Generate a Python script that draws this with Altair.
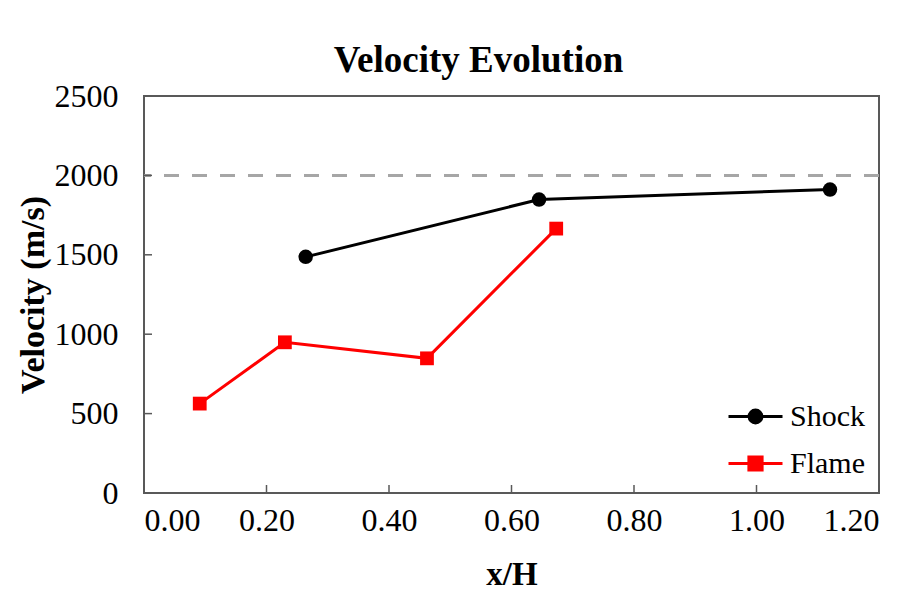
import altair as alt
import pandas as pd

# ---- data ----
shock_x = [0.264, 0.645, 1.120]
shock_v = [1487, 1848, 1911]
flame_x = [0.091, 0.230, 0.462, 0.673]
flame_v = [563, 949, 848, 1665]
series_names = ["Shock", "Flame"]
series_colors = ["#000000", "#FF0000"]
reference_velocity = [2000]
x_ticks = [0.0, 0.2, 0.4, 0.6, 0.8, 1.0, 1.2]
y_ticks = [0, 500, 1000, 1500, 2000, 2500]

FONT = "Liberation Serif"
AXIS_COLOR = "#595959"

shock_df = pd.DataFrame({"x": shock_x, "v": shock_v, "series": "Shock"})
flame_df = pd.DataFrame({"x": flame_x, "v": flame_v, "series": "Flame"})
all_df = pd.concat([shock_df, flame_df], ignore_index=True)
ref_df = pd.DataFrame({"v": reference_velocity})
xt_df = pd.DataFrame({"x": x_ticks})
yt_df = pd.DataFrame({"v": y_ticks})

W, H = 735, 397

xscale = alt.Scale(domain=[0, 1.2], nice=False, zero=False)
yscale = alt.Scale(domain=[0, 2500], nice=False)

x_axis = alt.Axis(
    values=x_ticks, format=".2f", grid=False, domain=False, ticks=False,
    labelFont=FONT, labelFontSize=32, labelColor="#000000", labelPadding=12,
    title="x/H", titleFont=FONT, titleFontSize=33, titleFontWeight="bold",
    titleColor="#000000", titlePadding=22,
)
y_axis = alt.Axis(
    values=y_ticks, format="d", grid=False, domain=False, ticks=False,
    labelFont=FONT, labelFontSize=32, labelColor="#000000", labelPadding=26,
    title="Velocity (m/s)", titleFont=FONT, titleFontSize=34, titleFontWeight="bold",
    titleColor="#000000", titlePadding=4,
)

X = alt.X("x:Q", scale=xscale, axis=x_axis)
Y = alt.Y("v:Q", scale=yscale, axis=y_axis)

# legend glyphs: a line segment with the series marker on it
legend_paths = [
    "M-1.35,0L1.35,0M-0.32,0A0.32,0.32,0,1,0,0.32,0A0.32,0.32,0,1,0,-0.32,0Z",
    "M-1.35,0L1.35,0M-0.33,-0.33L0.33,-0.33L0.33,0.33L-0.33,0.33Z",
]

legend = alt.Legend(
    title=None,
    orient="bottom-right",
    offset=14,
    symbolSize=1600,
    symbolStrokeWidth=3,
    labelFont=FONT,
    labelFontSize=30,
    labelColor="#000000",
    labelOffset=13,
    rowPadding=10,
    padding=0,
)

ref_line = alt.Chart(ref_df).mark_rule(
    color="#A6A6A6", strokeWidth=3, strokeDash=[15, 13]
).encode(y=Y)

shock_line = alt.Chart(shock_df).mark_line(strokeWidth=3, color=series_colors[0]).encode(x=X, y=Y)
flame_line = alt.Chart(flame_df).mark_line(strokeWidth=3, color=series_colors[1]).encode(x=X, y=Y)

shock_pts = alt.Chart(shock_df).mark_point(
    filled=True, opacity=1, size=210, shape="circle", color=series_colors[0]
).encode(x=X, y=Y)
flame_pts = alt.Chart(flame_df).mark_point(
    filled=True, opacity=1, size=190, shape="square", color=series_colors[1]
).encode(x=X, y=Y)

# legend-only layer (rows filtered out; the legend uses the explicit domains)
legend_layer = alt.Chart(all_df).transform_filter(alt.datum.v < 0).mark_point(
    strokeWidth=3, opacity=1
).encode(
    x=X,
    y=Y,
    fill=alt.Fill("series:N", scale=alt.Scale(domain=series_names, range=series_colors), legend=legend),
    stroke=alt.Stroke("series:N", scale=alt.Scale(domain=series_names, range=series_colors), legend=legend),
    shape=alt.Shape("series:N", scale=alt.Scale(domain=series_names, range=legend_paths), legend=legend),
)

x_tick_marks = alt.Chart(xt_df).mark_rule(color=AXIS_COLOR, strokeWidth=1.5).encode(
    x=X, y=alt.value(H), y2=alt.value(H - 8),
)
y_tick_marks = alt.Chart(yt_df).mark_rule(color=AXIS_COLOR, strokeWidth=1.5).encode(
    y=Y, x=alt.value(0), x2=alt.value(8),
)

chart = (
    alt.layer(ref_line, x_tick_marks, y_tick_marks, shock_line, flame_line,
              shock_pts, flame_pts, legend_layer)
    .properties(
        width=W,
        height=H,
        title=alt.TitleParams(
            "Velocity Evolution",
            font=FONT,
            fontSize=37,
            fontWeight="bold",
            color="#000000",
            anchor="middle",
            frame="group",
            dx=-33,
            offset=0,
        ),
        padding={"left": 144, "top": 96, "right": 36, "bottom": 109},
        autosize=alt.AutoSizeParams(type="none"),
        background="#FFFFFF",
    )
    .configure_view(stroke=AXIS_COLOR, strokeWidth=2)
)

chart.save("out.html", embed_options={"renderer": "svg", "actions": False})
